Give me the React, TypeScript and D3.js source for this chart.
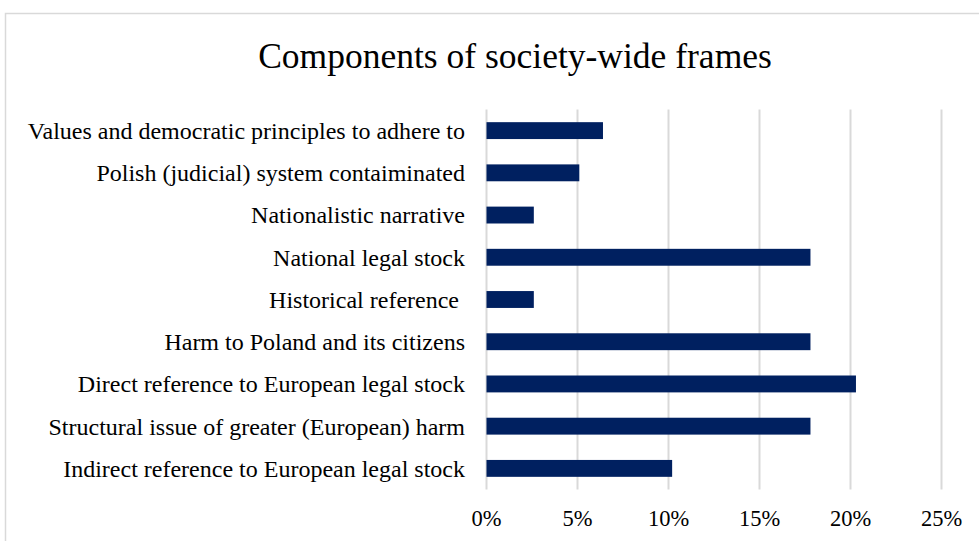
import React from "react";
import * as d3 from "d3";

const categories = [
  "Values and democratic principles to adhere to",
  "Polish (judicial) system contaiminated",
  "Nationalistic narrative",
  "National legal stock",
  "Historical reference ",
  "Harm to Poland and its citizens",
  "Direct reference to European legal stock",
  "Structural issue of greater (European) harm",
  "Indirect reference to European legal stock",
];
const values = [6.4, 5.1, 2.6, 17.8, 2.6, 17.8, 20.3, 17.8, 10.2];
const ticks = [0, 5, 10, 15, 20, 25];
const title = "Components of society-wide frames";

const W = 979;
const H = 541;
const FONT = "'Liberation Serif', 'Times New Roman', serif";

export default function App() {
  const x = d3.scaleLinear().domain([0, 25]).range([486.5, 941.5]);
  const y = d3.scaleBand<string>().domain(categories).range([109.5, 489.5]).paddingInner(0).paddingOuter(0);
  const bh = y.bandwidth() * 0.4;
  return (
    <svg width={W} height={H} style={{ position: "absolute", left: 0, top: 0, background: "#fff" }} fontFamily={FONT}>
      <rect x={0} y={0} width={W} height={H} fill="#fff" />
      <rect x={5.5} y={13.5} width={1200} height={800} fill="none" stroke="#d9d9d9" strokeWidth={1.5} />
      <text x={515} y={68} textAnchor="middle" fontSize={35.5} fill="#000">{title}</text>
      {ticks.map((t) => (
        <g key={t}>
          <line x1={x(t)} x2={x(t)} y1={y.range()[0]} y2={y.range()[1]} stroke="#d9d9d9" strokeWidth={2} />
          <text x={x(t)} y={526} textAnchor="middle" fontSize={22.5} fill="#000">{`${t}%`}</text>
        </g>
      ))}
      {categories.map((c, i) => (
        <g key={c}>
          <rect x={x(0)} y={(y(c) as number) + (y.bandwidth() - bh) / 2} width={x(values[i]) - x(0)} height={bh} fill="#002060" />
          <text x={465} y={(y(c) as number) + y.bandwidth() / 2} dy="0.35em" textAnchor="end" fontSize={24} fill="#000" style={{ whiteSpace: "pre" }}>{c}</text>
        </g>
      ))}
    </svg>
  );
}
